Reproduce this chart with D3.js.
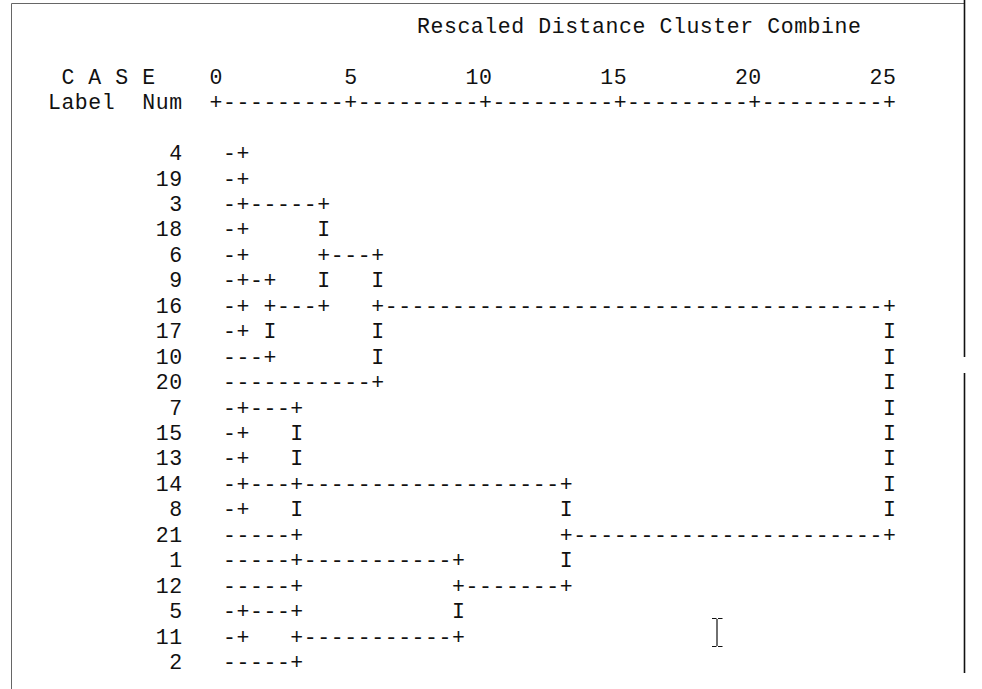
<!DOCTYPE html>
<html>
<head>
<meta charset="utf-8">
<script src="https://cdn.jsdelivr.net/npm/d3@7"></script>
<style>
  html, body { margin: 0; padding: 0; background: #fff; }
  svg { display: block; }
  text { font-family: "Liberation Mono", "DejaVu Sans Mono", monospace; font-size: 21.5px; fill: #111; }
</style>
</head>
<body>
<script>
// ---------- data ----------
// cases in dendrogram order (top to bottom)
const caseLabels = ["4","19","3","18","6","9","16","17","10","20","7","15","13","14","8","21","1","12","5","11","2"];
// agglomeration steps: representative case of each joining cluster
const mergeMembers = [
  ["4","19","3","18"],
  ["6","9","16","17"],
  ["9","10"],
  ["3","16"],
  ["6","20"],
  ["7","15"],
  ["13","14","8"],
  ["7","14","21"],
  ["1","12"],
  ["5","11"],
  ["5","2"],
  ["1","11"],
  ["14","12"],
  ["16","21"]
];
// rescaled distance at which each step combines
const mergeDistances = [1, 1, 2, 4, 6, 1, 1, 3, 3, 1, 3, 9, 13, 25];
// case row that carries the new cluster onward
const mergeReps = ["3","9","16","6","16","7","14","14","1","5","11","12","21","16"];

const tickValues = [0, 5, 10, 15, 20, 25];
const tickLabels = ["0", "5", "10", "15", "20", "25"];
const titleText = "Rescaled Distance Cluster Combine";
const headerCase = "C A S E";
const headerLabel = "Label  Num";

// ---------- layout ----------
const W = 982, H = 689;
const svg = d3.select("body").append("svg").attr("width", W).attr("height", H);
svg.append("rect").attr("width", W).attr("height", H).attr("fill", "#fff");

const x = d3.scaleLinear().domain([0, 25]).range([216, 889.5]);   // rescaled distance
const colX = c => x(c / 2);                                         // text column (2 per unit)
const y = d3.scaleLinear().domain([0, caseLabels.length - 1]).range([153, 662]); // text line
const rowIndex = new Map(caseLabels.map((c, i) => [c, i]));

// frame
const frame = svg.append("g");
frame.append("line").attr("x1", 11.5).attr("x2", 964).attr("y1", 3.5).attr("y2", 3.5)
  .attr("stroke", "#666").attr("stroke-width", 1);
frame.append("line").attr("x1", 11.5).attr("x2", 11.5).attr("y1", 3.5).attr("y2", H)
  .attr("stroke", "#666").attr("stroke-width", 1);
frame.append("line").attr("x1", 964.5).attr("x2", 964.5).attr("y1", 0).attr("y2", 357)
  .attr("stroke", "#111").attr("stroke-width", 1.6);
frame.append("line").attr("x1", 964.5).attr("x2", 964.5).attr("y1", 373).attr("y2", 673)
  .attr("stroke", "#111").attr("stroke-width", 1.6);

// ---------- build character grid ----------
const cells = new Map();
function put(line, col, ch) { cells.set(line + "," + col, { line, col, ch }); }
function putString(line, col0, s) {
  for (let i = 0; i < s.length; i++) if (s[i] !== " ") put(line, col0 + i, s[i]);
}

// title and headers
putString(-5, 15.4, titleText);
putString(-3, -11, headerCase);
putString(-2, -12, headerLabel);

// tick labels (last digit on the tick) and axis rule
tickValues.forEach((t, i) => {
  const s = tickLabels[i];
  putString(-3, t * 2 - (s.length - 1), s);
});
for (let c = 0; c <= 50; c++) put(-2, c, (c % 10 === 0) ? "+" : "-");

// case labels, right aligned
caseLabels.forEach((lab, i) => putString(i, -3 - (lab.length - 1), lab));

// dendrogram
const activeStart = new Map();
mergeMembers.forEach((members, k) => {
  const d = mergeDistances[k];
  const c = Math.round(d * 2);
  const idx = members.map(m => rowIndex.get(m));
  members.forEach(m => {
    const r = rowIndex.get(m);
    const s = activeStart.has(m) ? activeStart.get(m) : 0;
    const sc = Math.round(s * 2);
    for (let cc = sc + 1; cc < c; cc++) put(r, cc, "-");
    put(r, c, "+");
    activeStart.delete(m);
  });
  const lo = d3.min(idx), hi = d3.max(idx);
  const rep = mergeReps[k];
  for (let r = lo + 1; r < hi; r++) {
    if (idx.includes(r)) continue;
    put(r, c, caseLabels[r] === rep ? "+" : "I");
  }
  activeStart.set(rep, d);
});

svg.append("g").selectAll("text")
  .data(Array.from(cells.values()))
  .join("text")
  .attr("x", d => colX(d.col))
  .attr("y", d => y(d.line))
  .attr("dy", "0.33em")
  .attr("text-anchor", "middle")
  .text(d => d.ch);

// mouse text cursor visible in the screenshot
const cur = svg.append("g").attr("stroke", "#111").attr("stroke-width", 1.2).attr("fill", "none");
cur.append("path").attr("d", "M712,618.5 H716.5 M718,618.5 H722.5 M717,619 V646 M712,646.5 H716.5 M718,646.5 H722.5");
</script>
</body>
</html>
